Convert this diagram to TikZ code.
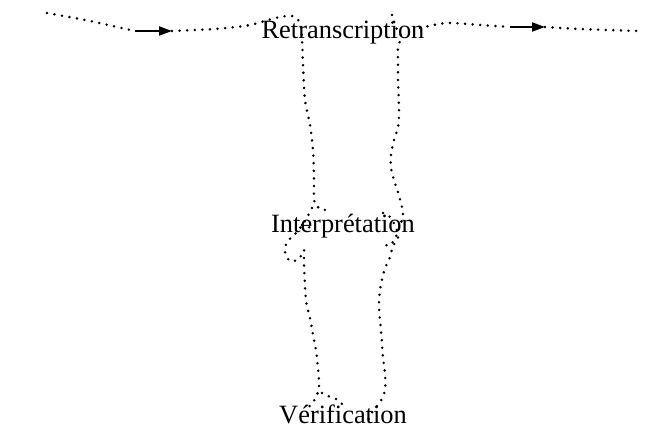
\documentclass[tikz,border=0pt]{standalone}
\usepackage{fontspec}
\setmainfont{Liberation Serif}
\usepackage{tikz}
\usetikzlibrary{arrows.meta}
\tikzset{
  trail/.style={line width=1.4pt, line cap=round, dash pattern=on 0pt off 3.8pt},
  tip/.style={-{Triangle[length=6.5pt,width=4.5pt]}, line width=0.9pt},
  stage/.style={font=\fontsize{13.2}{15}\selectfont, inner sep=0pt, anchor=base}
}

\begin{document}
\begin{tikzpicture}[x=0.5pt,y=-0.5pt]
  \useasboundingbox (0,0) rectangle (646,437);
  \node[stage] (retr)   at (343,39)  {Retranscription};
  \node[stage] (interp) at (343,233) {Interprétation};
  \node[stage] (verif)  at (343,423) {Vérification};
  \coordinate (src) at (47,13);
  \coordinate (snk) at (637,31);
  \coordinate (inA) at (135,31);  \coordinate (inB) at (172,31);
  \coordinate (outA) at (510,27); \coordinate (outB) at (545,27);

  % incoming edge, over the first stage and down the left side
  \draw[trail] plot[smooth] coordinates {(src) (90,21) (inA)};
  \draw[tip] (inA) -- (inB);
  \draw[trail] plot[smooth] coordinates {(inB) (215,29) (250,25) (275,18)
        (292,16) (300,23) (302,40) (303,65) (305,100) (310,125) (313,150)
        (314,180) (314,199) (317,207) (323,208) (327,213)};
  \draw[trail] plot[smooth] coordinates {(312,208) (305,221) (296,233)
        (287,242) (285,252) (290,261) (299,259) (304,250) (304,265)
        (306,300) (310,318) (313,335) (316,350) (318,368) (319,387)
        (316,397) (311,405) (306,409)};
  \draw[trail] plot[smooth] coordinates {(302,225) (308,227) (315,228)};
  \draw[trail] plot[smooth] coordinates {(322,393) (328,396) (336,399) (343,405)};

  % right side, back up to the first stage
  \draw[trail] plot[smooth] coordinates {(392,15) (393,25) (399,31) (401,38)
        (398,47) (398,62) (398,80) (399,110) (398,127) (394,140) (391,155)
        (391,168) (394,180) (398,192) (401,203) (403,214) (400,226)
        (397,234) (393,242) (388,246) (383,242)};
  \draw[trail] plot[smooth] coordinates {(383,213) (390,217) (396,228)
        (398,238) (393,246) (390,257) (386,266) (383,275) (380,290)
        (379,305) (380,320) (382,343) (383,358) (385,373) (385,390)
        (382,399) (377,406) (371,414) (367,423)};

  % outgoing edge
  \draw[trail] plot[smooth] coordinates {(420,28) (447,23) (480,25) (outA)};
  \draw[tip] (outA) -- (outB);
  \draw[trail] plot[smooth] coordinates {(outB) (580,29) (snk)};
\end{tikzpicture}
\end{document}
